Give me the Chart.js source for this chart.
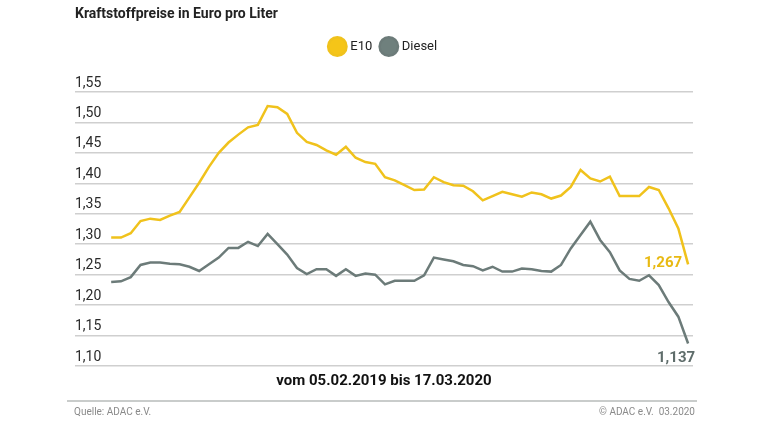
<!DOCTYPE html>
<html lang="de">
<head>
<meta charset="utf-8">
<title>Kraftstoffpreise</title>
<script src="https://cdn.jsdelivr.net/npm/chart.js@4.4.1/dist/chart.umd.min.js"></script>
<style>
  body { margin: 0; background: #fff; }
  #wrap { position: relative; width: 768px; height: 427px; overflow: hidden;
          font-family: 'Roboto', sans-serif; }
  #chart { position: absolute; left: 0; top: 0; }
  #title { position: absolute; left: 75px; top: 5px; font-weight: bold; font-size: 14px; color: #222; }
  #range { position: absolute; left: 0; width: 768px; top: 371px; text-align: center;
           font-weight: bold; font-size: 15px; color: #111; }
  #rule { position: absolute; left: 67px; width: 630px; top: 400px; height: 2px; background: #c9cccb; }
  #src { position: absolute; left: 74px; top: 406px; font-size: 10px; color: #8a8a8a; }
  #copy { position: absolute; right: 73px; top: 406px; font-size: 10px; color: #8a8a8a; }
</style>
</head>
<body>
<div id="wrap">
  <canvas id="chart" width="768" height="427"></canvas>
  <div id="title">Kraftstoffpreise in Euro pro Liter</div>
  <div id="range">vom 05.02.2019 bis 17.03.2020</div>
  <div id="rule"></div>
  <div id="src">Quelle: ADAC e.V.</div>
  <div id="copy">© ADAC e.V.&nbsp; 03.2020</div>
</div>
<script>
  // weekly prices
  const e10 = [
    1.311, 1.311, 1.318, 1.338, 1.342, 1.340, 1.347, 1.353, 1.377, 1.401,
    1.427, 1.450, 1.467, 1.480, 1.492, 1.496, 1.527, 1.525, 1.514, 1.483,
    1.468, 1.463, 1.454, 1.447, 1.460, 1.442, 1.435, 1.432, 1.410, 1.405,
    1.397, 1.389, 1.390, 1.410, 1.402, 1.397, 1.396, 1.387, 1.372, 1.379,
    1.386, 1.382, 1.378, 1.385, 1.382, 1.375, 1.380, 1.394, 1.422, 1.408,
    1.403, 1.411, 1.379, 1.379, 1.379, 1.394, 1.389, 1.359, 1.326, 1.267
  ];
  const diesel = [
    1.238, 1.239, 1.246, 1.266, 1.270, 1.270, 1.268, 1.267, 1.263, 1.256,
    1.267, 1.278, 1.294, 1.294, 1.304, 1.297, 1.317, 1.300, 1.283, 1.261,
    1.251, 1.259, 1.259, 1.248, 1.259, 1.248, 1.252, 1.250, 1.234, 1.240,
    1.240, 1.240, 1.249, 1.278, 1.275, 1.272, 1.266, 1.264, 1.257, 1.263,
    1.255, 1.255, 1.260, 1.259, 1.256, 1.255, 1.266, 1.293, 1.315, 1.337,
    1.307, 1.287, 1.257, 1.243, 1.240, 1.249, 1.233, 1.205, 1.181, 1.137
  ];
  const weeks = e10.map((v, i) => i);
  const yTicks = [1.10, 1.15, 1.20, 1.25, 1.30, 1.35, 1.40, 1.45, 1.50, 1.55];

  const fontFamily = "'Roboto', sans-serif";
  Chart.defaults.font.family = fontFamily;

  const comma = (v, d) => v.toFixed(d).replace('.', ',');

  // extra room between legend and plot
  const legendGap = {
    id: 'legendGap',
    beforeInit(chart) {
      const fit = chart.legend.fit;
      chart.legend.fit = function () {
        fit.bind(chart.legend)();
        this.height += 29;
      };
    }
  };

  // value labels at the end of each line
  const endLabels = {
    id: 'endLabels',
    afterDatasetsDraw(chart) {
      const ctx = chart.ctx;
      chart.data.datasets.forEach((ds, i) => {
        const meta = chart.getDatasetMeta(i);
        const pt = meta.data[meta.data.length - 1];
        const val = ds.data[ds.data.length - 1].y;
        ctx.save();
        ctx.font = 'bold 15px ' + fontFamily;
        ctx.fillStyle = ds.labelColor;
        ctx.textBaseline = 'middle';
        ctx.textAlign = 'right';
        if (i === 0) {
          ctx.fillText(comma(val, 3), pt.x - 6, pt.y - 1);
        } else {
          ctx.fillText(comma(val, 3), pt.x + 7, pt.y + 15);
        }
        ctx.restore();
      });
    }
  };

  new Chart(document.getElementById('chart'), {
    type: 'line',
    data: {
      datasets: [{
        label: 'E10',
        data: weeks.map(i => ({ x: i, y: e10[i] })),
        borderColor: '#f0c21c',
        backgroundColor: '#f5c518',
        labelColor: '#e8b912',
        borderWidth: 2.5,
        pointRadius: 0,
        tension: 0
      }, {
        label: 'Diesel',
        data: weeks.map(i => ({ x: i, y: diesel[i] })),
        borderColor: '#6c7b79',
        backgroundColor: '#6f807d',
        labelColor: '#5f6d6b',
        borderWidth: 2.5,
        pointRadius: 0,
        tension: 0
      }]
    },
    options: {
      responsive: false,
      animation: false,
      devicePixelRatio: 1,
      layout: { padding: { left: 75, right: 75, top: 30, bottom: 61 } },
      scales: {
        x: {
          type: 'linear',
          display: false,
          min: -3.7,
          max: 59.5
        },
        y: {
          min: 1.10,
          max: 1.55,
          afterBuildTicks: (axis) => { axis.ticks = yTicks.map(v => ({ value: v })); },
          afterFit: (axis) => { axis.width = 0; },
          border: { display: false },
          grid: { color: '#cfcfcf', lineWidth: 1.5, drawTicks: false },
          ticks: {
            mirror: true,
            padding: 0,
            labelOffset: -9,
            color: '#2a2a2a',
            font: { size: 14 },
            callback: (v) => comma(v, 2)
          }
        }
      },
      plugins: {
        legend: {
          position: 'top',
          labels: {
            usePointStyle: true,
            pointStyle: 'circle',
            boxWidth: 13,
            boxHeight: 13,
            padding: 10,
            color: '#222',
            font: { size: 13 }
          }
        },
        tooltip: { enabled: false }
      }
    },
    plugins: [legendGap, endLabels]
  });
</script>
</body>
</html>
